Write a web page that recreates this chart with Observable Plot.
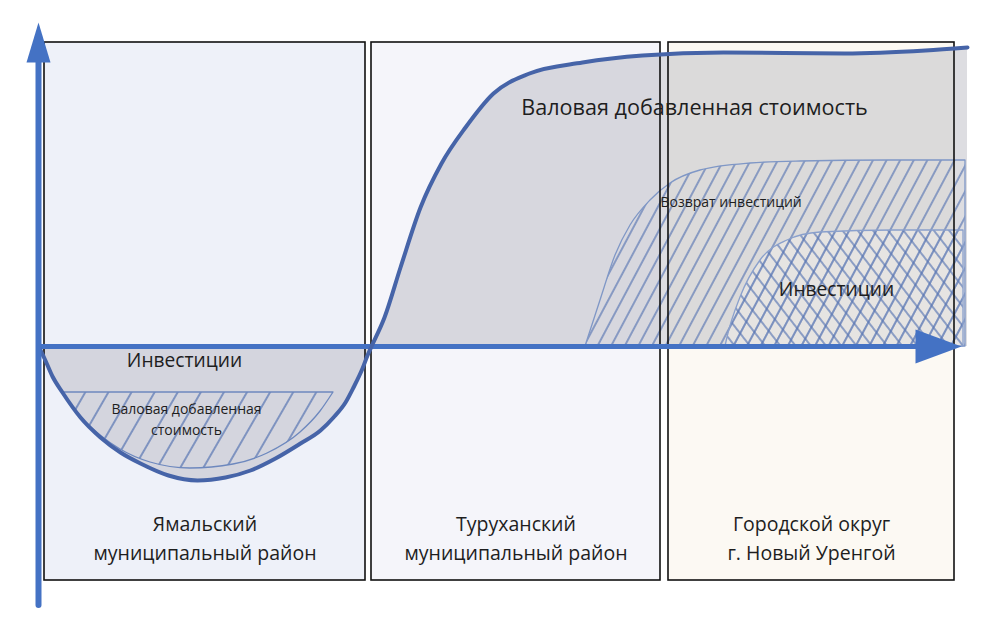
<!DOCTYPE html>
<html><head><meta charset="utf-8">
<script src="https://cdn.jsdelivr.net/npm/d3@7"></script>
<script src="https://cdn.jsdelivr.net/npm/@observablehq/plot@0.6"></script>
<style>
html,body{margin:0;padding:0;background:#fff;}
#chart svg{display:block;}
</style></head><body>
<svg width="0" height="0" style="position:absolute">
<defs>
<pattern id="hatchWide" patternUnits="userSpaceOnUse" width="20" height="20" patternTransform="rotate(30)">
  <line x1="10" y1="0" x2="10" y2="20" stroke="#5a77b3" stroke-width="1.4"/>
</pattern>
<pattern id="hatchFwd" patternUnits="userSpaceOnUse" width="12" height="12" patternTransform="rotate(28)">
  <line x1="6" y1="0" x2="6" y2="12" stroke="#5a77b3" stroke-width="1.3"/>
</pattern>
<pattern id="hatchBack" patternUnits="userSpaceOnUse" width="12" height="12" patternTransform="rotate(-38)">
  <line x1="6" y1="0" x2="6" y2="12" stroke="#5a77b3" stroke-width="1.3"/>
</pattern>
</defs>
</svg>
<div id="chart"></div>
<script>
// Regions (panels)
const regions = ["Ямальский\nмуниципальный район", "Туруханский\nмуниципальный район", "Городской округ\nг. Новый Уренгой"];
const regionStart = [6, 333, 630];
const regionEnd = [327, 622, 916];
const panelTop = 304;
const panelBottom = -234;

// Overall effect curve (investment dip, then gross value added)
const effectX = [0, 6, 14, 24, 42, 62, 82, 102, 130, 159, 187, 212, 237, 262, 282, 295, 307, 315, 324, 329, 333, 346, 362, 382, 403, 427, 455, 491, 544, 604, 685, 806, 887, 929];
const effectY = [0, -12, -30, -46, -71, -91, -106, -117, -129, -134, -131, -124, -112, -97, -84, -71, -56, -41, -22, -9, 0, 29, 79, 139, 183, 219, 253, 273, 284, 291, 294, 293, 296, 299];

// Yamal: gross value added inside the investment dip
const yamalGvaX = [24, 42, 62, 82, 112, 152, 195, 229, 262, 282, 295];
const yamalGvaY = [-46, -70, -89, -103, -116, -122, -118, -107, -86, -65, -46];
const yamalGvaTop = -46;

// Return on investment
const returnX = [547, 562, 577, 592, 612, 632, 662, 712, 762, 850, 927];
const returnY = [0, 46, 91, 121, 146, 163, 176, 183, 185, 186, 186];

// Investments (Novy Urengoy)
const investX = [687, 689, 702, 722, 749, 782, 855, 925];
const investY = [0, 9, 49, 86, 106, 114, 116, 116];

// Axis extents
const yAxisRange = [-259, 300];
const xAxisRange = [0, 885];
const yArrowAt = 304;
const xArrowAt = 900;

// Labels
const labelGva = "Валовая добавленная стоимость";
const labelReturn = "Возврат инвестиций";
const labelInvest = "Инвестиции";
const labelGvaSmall = "Валовая добавленная\nстоимость";

const panelColors = ["#eef1f9", "#f5f5fa", "#fcf9f3"];

const panels = regions.map((name, i) => ({name, x1: regionStart[i], x2: regionEnd[i]}));
const effect = effectX.map((x, i) => ({x, y: effectY[i]}));
const yamalGva = yamalGvaX.map((x, i) => ({x, y: yamalGvaY[i]}));
const ret = returnX.map((x, i) => ({x, y: returnY[i]}));
const invest = investX.map((x, i) => ({x, y: investY[i]}));

const arrowSymbol = (len, half) => ({
  draw(ctx) {
    ctx.moveTo(0, -len / 2);
    ctx.lineTo(half, len / 2);
    ctx.lineTo(-half, len / 2);
    ctx.closePath();
  }
});

const axisColor = "#4472c4";
const curveColor = "#4664a8";
const textColor = "#1e1e1e";

const chart = Plot.plot({
  width: 993, height: 638,
  marginLeft: 38, marginRight: 15, marginTop: 16, marginBottom: 30,
  x: {domain: [0, 940], axis: null},
  y: {domain: [-262, 330], axis: null},
  color: {domain: regions, range: panelColors},
  style: {fontFamily: "'Open Sans', sans-serif", background: "white"},
  marks: [
    Plot.rect(panels, {x1: "x1", x2: "x2", y1: panelBottom, y2: panelTop, fill: "name"}),
    Plot.areaY(effect, {x: "x", y: "y", fill: "#b4b4bc", fillOpacity: 0.45, curve: "monotone-x"}),
    Plot.areaY(yamalGva, {x: "x", y1: "y", y2: yamalGvaTop, fill: "url(#hatchWide)", stroke: "#6d88be", strokeWidth: 1.3, curve: "monotone-x"}),
    Plot.areaY(ret, {x: "x", y: "y", fill: "url(#hatchFwd)", stroke: "#7f97c6", strokeWidth: 1.3, curve: "monotone-x"}),
    Plot.areaY(invest, {x: "x", y: "y", fill: "#f3f0eb", fillOpacity: 0.45, curve: "monotone-x"}),
    Plot.areaY(invest, {x: "x", y: "y", fill: "url(#hatchFwd)", curve: "monotone-x"}),
    Plot.areaY(invest, {x: "x", y: "y", fill: "url(#hatchBack)", stroke: "#8aa0cc", strokeWidth: 1.3, curve: "monotone-x"}),
    Plot.rect(panels, {x1: "x1", x2: "x2", y1: panelBottom, y2: panelTop, fill: "none", stroke: "#111", strokeWidth: 1.6}),
    Plot.ruleY([0], {x1: xAxisRange[0], x2: xAxisRange[1], stroke: axisColor, strokeWidth: 5}),
    Plot.dot([{x: xArrowAt, y: 0}], {x: "x", y: "y", symbol: arrowSymbol(46, 17), rotate: 90, fill: axisColor, stroke: "none"}),
    Plot.line(effect, {x: "x", y: "y", stroke: curveColor, strokeWidth: 4, curve: "monotone-x"}),
    Plot.ruleX([0], {y1: yAxisRange[0], y2: yAxisRange[1], stroke: axisColor, strokeWidth: 6, strokeLinecap: "round"}),
    Plot.dot([{x: 0, y: yArrowAt}], {x: "x", y: "y", symbol: arrowSymbol(40, 12), fill: axisColor, stroke: "none"}),
    Plot.text(panels, {x: d => (d.x1 + d.x2) / 2, y: -190, text: "name", fontSize: 19.5, lineHeight: 1.44, fill: textColor}),
    Plot.text([labelGva], {x: 656, y: 238, text: d => d, fontSize: 21.6, fill: textColor}),
    Plot.text([labelReturn], {x: 622, y: 144, text: d => d, fontSize: 14, textAnchor: "start", fill: textColor}),
    Plot.text([labelInvest], {x: 798, y: 57, text: d => d, fontSize: 19.2, fill: textColor}),
    Plot.text([labelInvest], {x: 146, y: -14, text: d => d, fontSize: 19.2, fill: textColor}),
    Plot.text([labelGvaSmall], {x: 148, y: -71, text: d => d, fontSize: 14, lineHeight: 1.5, fill: textColor})
  ]
});
document.getElementById("chart").appendChild(chart);
</script>
</body></html>
